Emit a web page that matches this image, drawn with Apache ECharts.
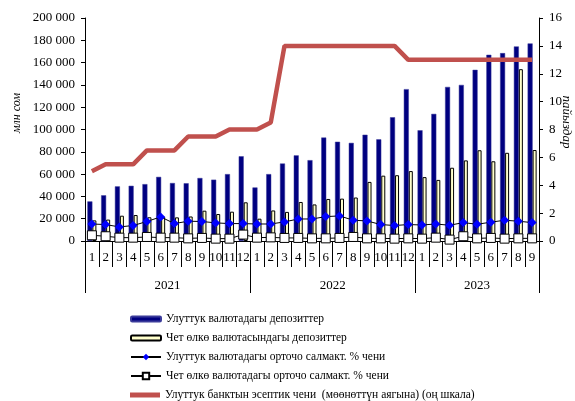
<!DOCTYPE html>
<html>
<head>
<meta charset="utf-8">
<script src="https://cdn.jsdelivr.net/npm/echarts@6/dist/echarts.min.js"></script>
<style>
  html, body { margin: 0; padding: 0; background: #fff; }
  #chart { width: 575px; height: 401px; }
</style>
</head>
<body>
<div id="chart"></div>
<script>
// Months of each year shown on the category axis
const months = ['1','2','3','4','5','6','7','8','9','10','11','12',
                '1','2','3','4','5','6','7','8','9','10','11','12',
                '1','2','3','4','5','6','7','8','9'];
// Year groups: label, first month index, month count
const years = ['2021', '2022', '2023'];
const yearStarts = [0, 12, 24];
const yearLengths = [12, 12, 9];

// Deposits, mln som
const depNational = [35500, 41000, 49000, 49500, 51000, 57500, 52000, 51800, 56500, 55000, 60000, 76000,
                     48000, 60000, 69500, 76800, 72500, 92800, 89000, 88000, 95300, 91200, 111000, 136200,
                     99300, 114000, 138200, 140000, 153500, 167000, 168500, 174500, 177200];
const depForeign = [18500, 19200, 22700, 23300, 21300, 21800, 21200, 22000, 27200, 24200, 26300, 34700,
                    20000, 27400, 26100, 35000, 32800, 37700, 38000, 39000, 53000, 58600, 59000, 62700,
                    57300, 54800, 65700, 72300, 81400, 71500, 79100, 154100, 81600];

// Weighted average rates, %
const rateNational = [1.22, 1.18, 1.01, 1.11, 1.40, 1.73, 1.25, 1.42, 1.40, 1.30, 1.25, 1.25,
                      1.22, 1.22, 1.37, 1.58, 1.58, 1.75, 1.80, 1.49, 1.44, 1.18, 1.11, 1.18,
                      1.15, 1.22, 1.13, 1.32, 1.20, 1.35, 1.49, 1.42, 1.32];
const rateForeign = [0.41, 0.34, 0.24, 0.24, 0.29, 0.24, 0.24, 0.19, 0.22, 0.17, 0.17, 0.46,
                     0.24, 0.26, 0.22, 0.22, 0.19, 0.19, 0.22, 0.29, 0.19, 0.19, 0.17, 0.19,
                     0.17, 0.24, 0.10, 0.34, 0.19, 0.22, 0.17, 0.19, 0.19];
// Policy rate (end of period), %
const policyRate = [5, 5.5, 5.5, 5.5, 6.5, 6.5, 6.5, 7.5, 7.5, 7.5, 8, 8,
                    8, 8.5, 14, 14, 14, 14, 14, 14, 14, 14, 14, 13,
                    13, 13, 13, 13, 13, 13, 13, 13, 13];

// Axis ranges
const leftMax = 200000, leftStep = 20000;
const rightMax = 16, rightStep = 2;

const names = [
  'Улуттук валютадагы депозиттер',
  'Чет өлкө валютасындагы депозиттер',
  'Улуттук валютадагы орточо салмакт. % чени',
  'Чет өлкө валютадагы орточо салмакт. % чени',
  'Улуттук банктын эсептик чени  (мөөнөттүн аягына) (оң шкала)'
];

const FONT = '"Liberation Serif", "Times New Roman", serif';
const fmtThousands = v => String(v).replace(/\B(?=(\d{3})+(?!\d))/g, ' ');

// Year boundaries and mid points on a 0..N scale
const N = months.length;
const yearBounds = [0];
yearStarts.forEach((s, i) => yearBounds.push(s + yearLengths[i]));
const yearMids = yearStarts.map((s, i) => s + yearLengths[i] / 2);

const chart = echarts.init(document.getElementById('chart'), null, { renderer: 'canvas' });

const legendText = { fontFamily: FONT, fontSize: 11.5, color: '#000', lineHeight: 14 };

chart.setOption({
  animation: false,
  backgroundColor: '#fff',
  grid: { left: 85, right: 36, top: 18, bottom: 160, containLabel: false },
  xAxis: [
    {
      type: 'category',
      data: months,
      boundaryGap: true,
      axisLine: { show: true, lineStyle: { color: '#000', width: 1 } },
      axisTick: { show: true, interval: 0, alignWithLabel: false, length: 26, lineStyle: { color: '#000' } },
      axisLabel: { interval: 0, margin: 10, fontFamily: FONT, fontSize: 13, color: '#000' },
      splitLine: { show: false }
    },
    {
      type: 'value',
      min: 0,
      max: N,
      position: 'bottom',
      axisLine: { show: false },
      axisTick: { show: true, customValues: yearBounds, length: 52, lineStyle: { color: '#000' } },
      axisLabel: {
        customValues: yearMids,
        margin: 38,
        fontFamily: FONT, fontSize: 13, color: '#000',
        formatter: v => {
          const i = yearMids.indexOf(v);
          return i >= 0 ? years[i] : '';
        }
      },
      splitLine: { show: false }
    }
  ],
  yAxis: [
    {
      type: 'value',
      min: 0, max: leftMax, interval: leftStep,
      axisLine: { show: true, lineStyle: { color: '#000' } },
      axisTick: { show: true, length: 4, lineStyle: { color: '#000' } },
      axisLabel: { margin: 10, fontFamily: FONT, fontSize: 13, color: '#000', formatter: fmtThousands },
      splitLine: { show: false }
    },
    {
      type: 'value',
      position: 'right',
      min: 0, max: rightMax, interval: rightStep,
      axisLine: { show: true, lineStyle: { color: '#000' } },
      axisTick: { show: true, length: 4, lineStyle: { color: '#000' } },
      axisLabel: { margin: 10, fontFamily: FONT, fontSize: 13, color: '#000' },
      splitLine: { show: false }
    }
  ],
  legend: [
    {
      orient: 'vertical', left: 125, top: 307, itemWidth: 30, itemHeight: 5, itemGap: 5,
      selectedMode: false, textStyle: legendText, data: [names[0], names[1]]
    },
    {
      orient: 'vertical', left: 125, top: 345, itemWidth: 30, itemHeight: 8, itemGap: 5,
      selectedMode: false, textStyle: legendText, data: [names[2], names[3]]
    },
    {
      orient: 'vertical', left: 125, top: 383, itemWidth: 30, itemHeight: 5, itemGap: 5,
      selectedMode: false, textStyle: legendText, data: [{ name: names[4], icon: 'rect' }]
    }
  ],
  graphic: [
    {
      type: 'text', x: 17, y: 113, rotation: Math.PI / 2,
      style: { text: 'млн сом', fontFamily: FONT, fontSize: 12, fontStyle: 'italic', fill: '#000',
               align: 'center', verticalAlign: 'middle' }
    },
    {
      type: 'text', x: 566, y: 122, rotation: -Math.PI / 2,
      style: { text: 'пайыздар', fontFamily: FONT, fontSize: 13, fontStyle: 'italic', fill: '#000',
               align: 'center', verticalAlign: 'middle' }
    }
  ],
  series: [
    {
      name: names[0], type: 'bar', xAxisIndex: 0, yAxisIndex: 0,
      data: depNational, barWidth: 5, barGap: '0%',
      itemStyle: { color: '#000080', borderColor: '#3a3a9a', borderWidth: 0.5 }, z: 2
    },
    {
      name: names[1], type: 'bar', xAxisIndex: 0, yAxisIndex: 0,
      data: depForeign, barWidth: 4, barGap: '0%',
      itemStyle: { color: '#FFFFCC', borderColor: '#000', borderWidth: 1 }, z: 2
    },
    {
      name: names[2], type: 'line', xAxisIndex: 0, yAxisIndex: 1,
      data: rateNational, symbol: 'diamond', symbolSize: 9,
      lineStyle: { color: '#000', width: 1 },
      itemStyle: { color: '#0000FF', borderColor: '#0000FF', borderWidth: 0 }, z: 4
    },
    {
      name: names[3], type: 'line', xAxisIndex: 0, yAxisIndex: 1,
      data: rateForeign, symbol: 'rect', symbolSize: 9,
      lineStyle: { color: '#000', width: 1 },
      itemStyle: { color: '#fff', borderColor: '#000', borderWidth: 1 }, z: 5
    },
    {
      name: names[4], type: 'line', xAxisIndex: 0, yAxisIndex: 1,
      data: policyRate, symbol: 'none',
      lineStyle: { color: '#C0504D', width: 4.5 },
      itemStyle: { color: '#C0504D' }, z: 6
    }
  ]
});
</script>
</body>
</html>
